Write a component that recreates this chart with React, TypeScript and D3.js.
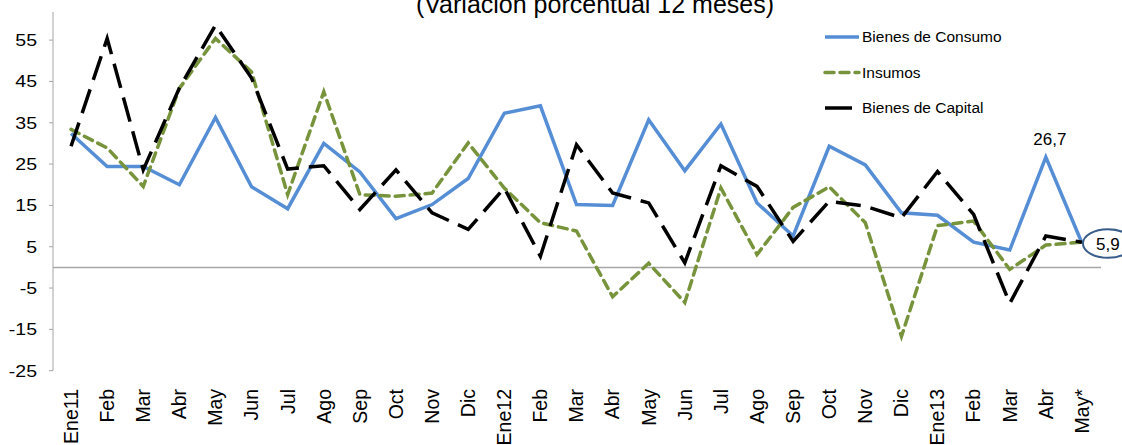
import React from "react";
import * as d3 from "d3";

const categories = ["Ene11","Feb","Mar","Abr","May","Jun","Jul","Ago","Sep","Oct","Nov","Dic","Ene12","Feb","Mar","Abr","May","Jun","Jul","Ago","Sep","Oct","Nov","Dic","Ene13","Feb","Mar","Abr","May*"];
const consumo = [32.4,24.4,24.4,20.0,36.3,19.5,14.2,30.0,23.1,11.8,15.2,21.5,37.3,39.1,15.2,15.0,35.7,23.4,34.7,15.6,7.6,29.3,24.8,13.2,12.6,6.1,4.2,26.7,5.9];
const insumos = [33.4,28.9,19.6,43.3,55.4,47.3,17.6,42.5,17.6,17.2,18.0,30.1,19.2,10.8,8.8,-7.1,1.0,-8.5,19.2,3.1,14.5,19.5,10.8,-16.7,10.1,11.2,-0.5,5.4,6.1];
const capital = [29.3,55.4,23.6,43.4,58.6,45.8,23.8,24.6,14.0,23.6,13.2,9.2,19.2,2.7,29.7,18.0,15.6,1.1,24.6,19.6,6.3,16.0,14.8,12.0,23.2,12.8,-8.7,7.6,6.1];
const yTicks = [-25,-15,-5,5,15,25,35,45,55];
const seriesNames = ["Bienes de Consumo","Insumos","Bienes de Capital"];
const title = "(Variación porcentual 12 meses)";

const FONT = "'Liberation Sans', Arial, sans-serif";

export default function App() {
  const W = 1122, H = 445;
  const x = d3.scaleBand<number>().domain(d3.range(categories.length)).range([53, 1100]).paddingInner(0).paddingOuter(0);
  const cx = (i: number) => (x(i) as number) + x.bandwidth() / 2;
  const y = d3.scaleLinear().domain([-25, 61.8]).range([370.7, 12]);
  const line = d3.line<number>().x((_, i) => cx(i)).y((d) => y(d));

  const series = [
    { name: seriesNames[0], data: consumo, color: "#558ED5", dash: undefined as string | undefined, width: 3.5, cap: "butt" },
    { name: seriesNames[1], data: insumos, color: "#77933C", dash: "9,6", width: 3.5, cap: "round" },
    { name: seriesNames[2], data: capital, color: "#000000", dash: "25,10", width: 3.5, cap: "butt" },
  ];

  const last = categories.length - 1;

  return (
    <div style={{ position: "absolute", left: 0, top: 0 }}>
      <svg width={W} height={H} style={{ display: "block", background: "#fff" }} fontFamily={FONT}>
        <text x={595} y={13} textAnchor="middle" fontSize={25} fill="#000">{title}</text>

        {/* y axis */}
        <line x1={53} x2={53} y1={12} y2={y(-25)} stroke="#A6A6A6" strokeWidth={1} />
        {yTicks.map((t) => (
          <g key={t}>
            <line x1={49} x2={53} y1={y(t)} y2={y(t)} stroke="#A6A6A6" strokeWidth={1} />
            <text transform={`translate(37,${y(t)}) scale(1.15,1)`} dy="0.35em" textAnchor="end" fontSize={17} fill="#000">{t}</text>
          </g>
        ))}
        {/* zero line */}
        <line x1={53} x2={1101} y1={y(0)} y2={y(0)} stroke="#A6A6A6" strokeWidth={1.5} />

        {/* x labels */}
        {categories.map((c, i) => (
          <text key={i} transform={`translate(${cx(i)},389) rotate(-90)`} dy="0.35em" textAnchor="end" fontSize={19.5} fill="#000">{c}</text>
        ))}

        {/* lines */}
        {series.map((s) => (
          <path key={s.name} d={line(s.data) as string} fill="none" stroke={s.color} strokeWidth={s.width}
            strokeDasharray={s.dash} strokeLinecap={s.cap as any} strokeLinejoin="miter" />
        ))}

        {/* legend */}
        {series.map((s, i) => (
          <g key={s.name}>
            <line x1={825} x2={i === 2 ? 852 : 859} y1={37 + i * 35.5} y2={37 + i * 35.5} stroke={s.color} strokeWidth={s.width}
              strokeDasharray={i === 2 ? undefined : s.dash} strokeLinecap={s.cap as any} />
            <text x={862} y={37 + i * 35.5} dy="0.35em" fontSize={15.5} fill="#000">{s.name}</text>
          </g>
        ))}

        {/* annotations */}
        <text x={cx(27) + 4} y={145} textAnchor="middle" fontSize={17} fill="#000">{String(consumo[27]).replace(".", ",")}</text>
        <ellipse cx={cx(last) + 26} cy={y(consumo[last]) + 0.5} rx={25} ry={14.3} fill="none" stroke="#385D8A" strokeWidth={2} />
        <text x={1096} y={250} fontSize={17} fill="#000">{String(consumo[last]).replace(".", ",")}</text>
      </svg>
    </div>
  );
}
